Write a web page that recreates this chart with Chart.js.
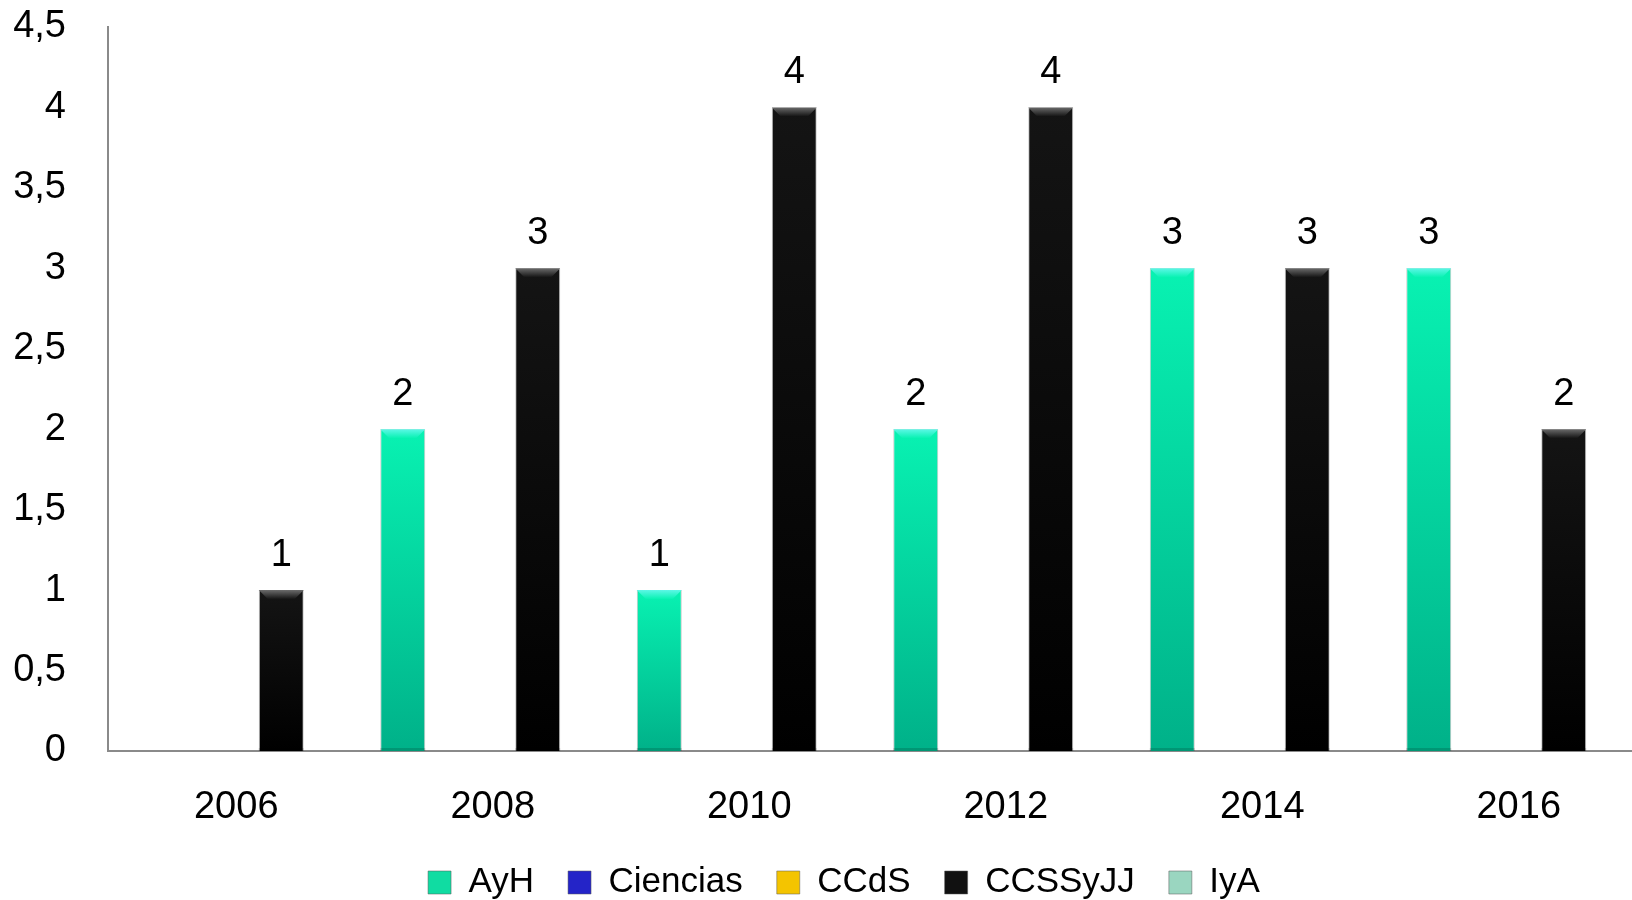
<!DOCTYPE html>
<html>
<head>
<meta charset="utf-8">
<script src="https://cdn.jsdelivr.net/npm/chart.js@4.4.1/dist/chart.umd.min.js"></script>
<style>
  html, body { margin: 0; padding: 0; background: #fff; overflow: hidden; width: 1632px; height: 900px; }
  #wrap { position: absolute; left: 0; top: 0; width: 1632px; height: 900px; overflow: hidden; }
  #barChart { display: block; position: absolute; left: 0; top: 0; }
</style>
</head>
<body>
<div id="wrap"><canvas id="barChart" width="1686" height="910"></canvas></div>
<script>
// data
const years = ['2006', '2008', '2010', '2012', '2014', '2016'];
const seriesNames = ['AyH', 'Ciencias', 'CCdS', 'CCSSyJJ', 'IyA'];
const ayh = [null, 2, 1, 2, 3, 3];
const ciencias = [null, null, null, null, null, null];
const ccds = [null, null, null, null, null, null];
const ccssyjj = [1, 3, 4, 4, 3, 2];
const iya = [null, null, null, null, null, null];
const yTicks = [0, 0.5, 1, 1.5, 2, 2.5, 3, 3.5, 4, 4.5];

const legendColors = ['#10dca2', '#2424c8', '#f4c400', '#111111', '#9ad6c0'];
const barTop = ['#08f2b2', '#3a3ae0', '#ffd21a', '#141414', '#a8e0cc'];
const barBottom = ['#00b189', '#1818a8', '#d9a800', '#000000', '#80bfa8'];
const bevelColors = ['#5cf7e6', '#6a6af0', '#ffe680', '#6a6a6a', '#d0f0e4'];

const FONT = "'Liberation Sans', Arial, sans-serif";

function barGradient(i) {
  return function(ctx) {
    const chart = ctx.chart;
    const v = ctx.raw;
    if (v == null || !chart.chartArea) return barTop[i];
    const yScale = chart.scales.y;
    const top = yScale.getPixelForValue(v);
    const base = yScale.getPixelForValue(0);
    const g = chart.ctx.createLinearGradient(0, top, 0, base);
    g.addColorStop(0, barTop[i]);
    g.addColorStop(1, barBottom[i]);
    return g;
  };
}

// bevel on top of each bar + value labels
const barDecor = {
  id: 'barDecor',
  afterLayout(chart) {
    // legend is centred a bit right of the canvas middle in the original
    if (chart.legend) chart.legend.left += 41;
  },
  afterDatasetsDraw(chart) {
    const ctx = chart.ctx;
    chart.data.datasets.forEach(function(ds, i) {
      const meta = chart.getDatasetMeta(i);
      meta.data.forEach(function(bar, j) {
        const v = ds.data[j];
        if (v == null) return;
        const p = bar.getProps(['x', 'y', 'width', 'base'], true);
        const l = p.x - p.width / 2, r = p.x + p.width / 2, b = 9;
        ctx.save();
        const g = ctx.createLinearGradient(0, p.y, 0, p.y + b);
        g.addColorStop(0, bevelColors[i]);
        g.addColorStop(1, barTop[i]);
        ctx.fillStyle = g;
        ctx.beginPath();
        ctx.moveTo(l, p.y);
        ctx.lineTo(r, p.y);
        ctx.lineTo(r - b, p.y + b);
        ctx.lineTo(l + b, p.y + b);
        ctx.closePath();
        ctx.fill();
        ctx.fillStyle = 'rgba(0,0,0,0.15)';
        ctx.fillRect(l, p.base - 3, p.width, 3);

        ctx.fillStyle = '#000';
        ctx.font = '38px ' + FONT;
        ctx.textAlign = 'center';
        ctx.textBaseline = 'alphabetic';
        ctx.fillText(String(v), p.x, p.y - 24);
        ctx.restore();
      });
    });
  }
};

const allSeries = [ayh, ciencias, ccds, ccssyjj, iya];

var myBarChart = new Chart(document.getElementById('barChart').getContext('2d'), {
  type: 'bar',
  data: {
    labels: years,
    datasets: allSeries.map(function(vals, i) {
      return {
        label: seriesNames[i],
        data: vals,
        backgroundColor: barGradient(i),
        borderColor: 'rgba(90,90,90,0.35)',
        borderWidth: { left: 1, right: 1, top: 1, bottom: 0 },
        categoryPercentage: 0.877,
        barPercentage: 1.0
      };
    })
  },
  options: {
    responsive: false,
    animation: false,
    devicePixelRatio: 1,
    layout: { padding: { left: 0, right: 39, top: 27, bottom: 0 } },
    plugins: {
      tooltip: { enabled: false },
      legend: {
        position: 'bottom',
        labels: {
          font: { family: FONT, size: 35 },
          color: '#000',
          boxWidth: 23,
          boxHeight: 23,
          padding: 34,
          generateLabels: function(chart) {
            return seriesNames.map(function(name, i) {
              return {
                text: name,
                fillStyle: legendColors[i],
                strokeStyle: 'rgba(90,90,90,0.5)',
                lineWidth: 1,
                fontColor: '#000',
                datasetIndex: i,
                hidden: false
              };
            });
          }
        }
      }
    },
    scales: {
      x: {
        grid: { display: false, drawTicks: false },
        border: { display: true, color: '#8a8a8a', width: 2 },
        ticks: {
          font: { family: FONT, size: 38 },
          color: '#000',
          padding: 34,
          maxRotation: 0
        },
        afterFit: function(scale) { scale.height = 80; }
      },
      y: {
        min: 0,
        max: 4.5,
        grid: { display: false, drawTicks: false },
        border: { display: true, color: '#8a8a8a', width: 2 },
        afterBuildTicks: function(scale) {
          scale.ticks = yTicks.map(function(v) { return { value: v }; });
        },
        ticks: {
          font: { family: FONT, size: 38 },
          color: '#000',
          padding: 42,
          callback: function(v) { return String(v).replace('.', ','); }
        },
        afterFit: function(scale) {
          scale.width = 108;
          scale.paddingTop = 0;
          scale.paddingBottom = 0;
        }
      }
    }
  },
  plugins: [barDecor]
});
</script>
</body>
</html>
